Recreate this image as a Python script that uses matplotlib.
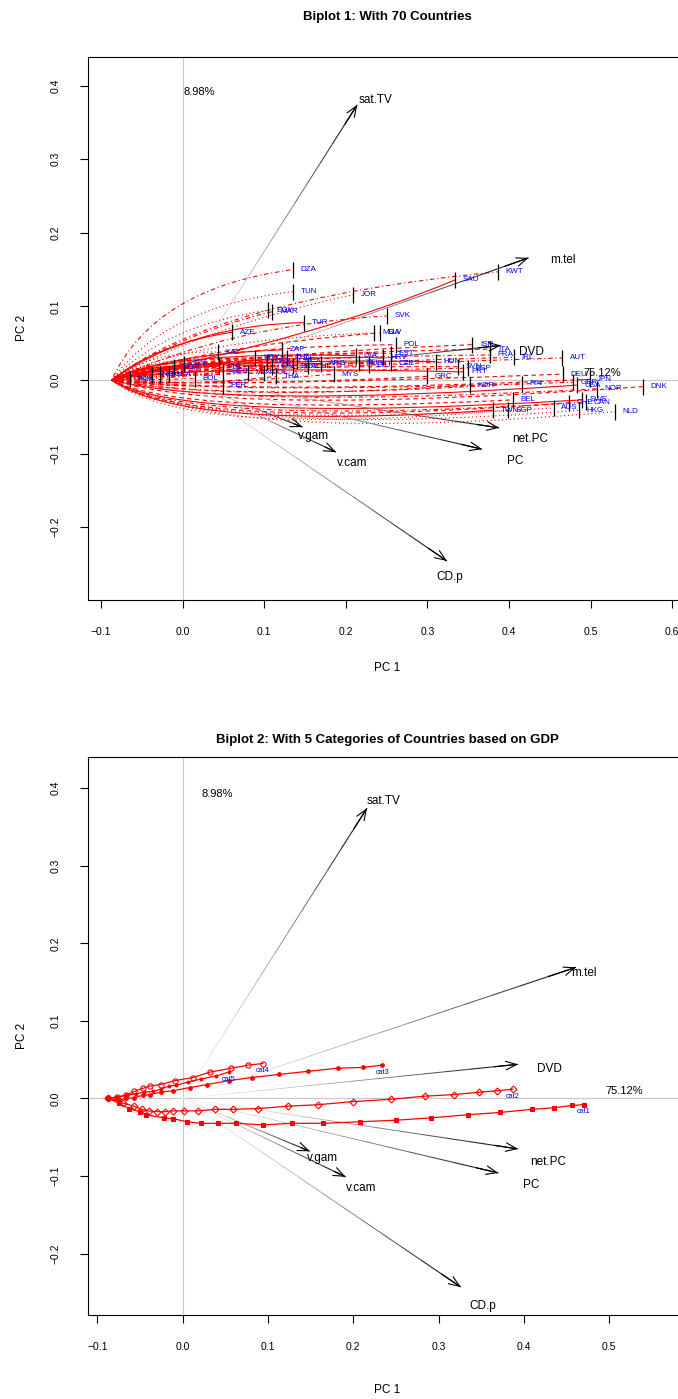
import matplotlib.pyplot as plt
import numpy as np
from matplotlib.path import Path
from matplotlib.patches import PathPatch

plt.rcParams['font.family'] = ['Liberation Sans', 'DejaVu Sans']

# ---------------- variable loadings (arrow tips) ----------------
var_names = ['sat.TV', 'm.tel', 'DVD', 'net.PC', 'PC', 'v.gam', 'v.cam', 'CD.p']
tip_x1 = [0.214, 0.424, 0.390, 0.388, 0.367, 0.147, 0.188, 0.324]
tip_y1 = [0.374, 0.166, 0.047, -0.065, -0.094, -0.064, -0.098, -0.246]
lab_x1 = [0.236, 0.466, 0.428, 0.426, 0.408, 0.160, 0.208, 0.328]
lab_y1 = [0.381, 0.163, 0.038, -0.080, -0.110, -0.076, -0.113, -0.268]

tip_x2 = [0.216, 0.461, 0.393, 0.393, 0.370, 0.149, 0.191, 0.326]
tip_y2 = [0.374, 0.169, 0.044, -0.065, -0.096, -0.068, -0.101, -0.243]
lab_x2 = [0.236, 0.470, 0.430, 0.429, 0.408, 0.164, 0.209, 0.352]
lab_y2 = [0.383, 0.162, 0.038, -0.082, -0.112, -0.077, -0.116, -0.268]

pc_text = ['75.12%', '8.98%']

# ---------------- Biplot 1: country trajectories ----------------
start_pt = (-0.087, 0.0)
countries = ['DZA', 'TUN', 'EGY', 'MAR', 'JOR', 'SAU', 'KWT', 'TUR', 'AZE', 'SVK',
             'MDA', 'SLV', 'POL', 'ISR', 'ITA', 'FRA', 'IRL', 'AUT', 'HUN', 'SVN',
             'ESP', 'PRT', 'LVA', 'RUS', 'LTU', 'EST', 'CZE', 'HRV', 'KAZ', 'ZAF',
             'BRA', 'CHL', 'ARG', 'URY', 'UKR', 'CHN', 'MEX', 'VEN', 'COL', 'IRN',
             'TKM', 'IND', 'PAK', 'LKA', 'NGA', 'IDN', 'BOL', 'PHL', 'ECU', 'PER',
             'THA', 'GRC', 'MYS', 'KOR', 'FIN', 'DEU', 'GBR', 'JPN', 'USA', 'NOR',
             'DNK', 'BEL', 'AUS', 'HKG', 'NLD', 'CHE', 'SWE', 'CAN', 'TWN', 'SGP']
end_x = [0.135, 0.135, 0.105, 0.110, 0.209, 0.334, 0.386, 0.149, 0.061, 0.250,
         0.235, 0.242, 0.261, 0.355, 0.377, 0.377, 0.406, 0.465, 0.310, 0.338,
         0.350, 0.344, 0.212, 0.216, 0.228, 0.255, 0.255, 0.245, 0.043, 0.122,
         0.135, 0.154, 0.170, 0.089, 0.103, 0.128, 0.140, 0.080, 0.100, 0.110,
         -0.065, -0.037, -0.028, -0.017, -0.010, 0.002, 0.015, 0.045, 0.050, 0.049,
         0.115, 0.300, 0.185, 0.352, 0.416, 0.466, 0.479, 0.499, 0.483, 0.508,
         0.564, 0.405, 0.455, 0.486, 0.530, 0.474, 0.490, 0.495, 0.381, 0.399]
end_y = [0.150, 0.120, 0.095, 0.093, 0.116, 0.136, 0.147, 0.078, 0.065, 0.087,
         0.064, 0.064, 0.048, 0.048, 0.042, 0.034, 0.031, 0.030, 0.025, 0.018,
         0.016, 0.011, 0.033, 0.023, 0.020, 0.036, 0.023, 0.031, 0.038, 0.041,
         0.019, 0.019, 0.022, 0.030, 0.025, 0.030, 0.026, 0.010, 0.010, 0.018,
         0.001, 0.007, 0.008, 0.008, 0.017, 0.022, 0.002, 0.019, 0.011, -0.008,
         0.005, 0.005, 0.008, -0.007, -0.005, 0.008, -0.003, 0.001, -0.007, -0.012,
         -0.009, -0.027, -0.038, -0.041, -0.043, -0.031, -0.027, -0.030, -0.041, -0.041]
bend_x = [-0.035, -0.020, -0.020, -0.010, 0.020, 0.170, 0.040, 0.010, -0.030, 0.060,
          0.000, 0.020, 0.000, 0.050, 0.000, 0.000, 0.050, 0.050, 0.000, 0.000,
          0.000, 0.000, -0.020, -0.020, 0.000, 0.000, 0.000, -0.010, -0.040, -0.020,
          -0.020, -0.020, -0.010, -0.030, -0.030, -0.020, -0.020, -0.030, -0.030, -0.030,
          -0.075, -0.060, -0.060, -0.050, -0.050, -0.050, -0.040, -0.030, -0.030, -0.030,
          0.000, 0.050, 0.000, 0.050, 0.050, 0.050, 0.050, 0.100, 0.050, 0.050,
          0.050, 0.000, 0.000, 0.050, 0.050, 0.000, 0.000, 0.000, 0.000, 0.000]
bend_y = [0.125, 0.100, 0.075, 0.060, 0.070, 0.060, 0.110, 0.075, 0.050, 0.075,
          0.055, 0.045, 0.045, 0.035, 0.035, 0.030, 0.020, 0.015, 0.030, 0.020,
          0.010, 0.020, 0.040, 0.035, 0.025, 0.035, 0.020, 0.030, 0.040, 0.035,
          0.020, 0.025, 0.030, 0.030, 0.040, 0.020, 0.010, 0.020, 0.005, 0.030,
          0.000, 0.010, 0.015, 0.000, 0.020, 0.025, 0.000, 0.015, 0.000, -0.010,
          -0.010, -0.010, -0.010, -0.030, -0.030, -0.010, -0.020, -0.020, -0.040, -0.040,
          -0.050, -0.050, -0.070, -0.080, -0.090, -0.070, -0.060, -0.065, -0.070, -0.080]
lty = ['dotdash', 'dotted', 'dotted', 'dotdash', 'dotted', 'solid', 'dotdash', 'solid', 'solid', 'dotdash',
       'dotted', 'dashed', 'dashed', 'dashed', 'dashed', 'dotdash', 'dotdash', 'dotdash', 'solid', 'dashed',
       'dotdash', 'solid', 'solid', 'dashed', 'dotted', 'dashed', 'dotdash', 'solid', 'dotted', 'solid',
       'dashed', 'dotdash', 'solid', 'dashed', 'dotted', 'solid', 'dashed', 'dashed', 'dotdash', 'solid',
       'solid', 'solid', 'dashed', 'dotted', 'solid', 'dotdash', 'dashed', 'solid', 'dotdash', 'dashed',
       'dashed', 'dashed', 'dotdash', 'dashed', 'dotdash', 'dashed', 'dotdash', 'dashed', 'solid', 'dotdash',
       'dashed', 'dashed', 'dotted', 'dotted', 'dotted', 'dashed', 'solid', 'dotdash', 'solid', 'dotted']

# ---------------- Biplot 2: GDP category trajectories ----------------
cat_names = ['cat1', 'cat2', 'cat3', 'cat4', 'cat5']
cat1_x = [-0.087, -0.075, -0.063, -0.050, -0.043, -0.022, -0.011, 0.005, 0.021, 0.041, 0.063, 0.094,
          0.128, 0.164, 0.208, 0.250, 0.291, 0.334, 0.372, 0.409, 0.435, 0.456, 0.470]
cat1_y = [0.000, -0.006, -0.013, -0.017, -0.021, -0.025, -0.026, -0.030, -0.032, -0.032, -0.032, -0.034,
          -0.032, -0.032, -0.030, -0.028, -0.025, -0.021, -0.018, -0.014, -0.012, -0.009, -0.008]
cat2_x = [-0.087, -0.070, -0.057, -0.048, -0.040, -0.030, -0.021, -0.011, 0.002, 0.018, 0.038,
          0.059, 0.088, 0.123, 0.159, 0.200, 0.244, 0.284, 0.318, 0.347, 0.369, 0.387]
cat2_y = [0.000, -0.006, -0.010, -0.014, -0.016, -0.017, -0.017, -0.016, -0.016, -0.016, -0.014,
          -0.014, -0.013, -0.010, -0.008, -0.004, -0.001, 0.003, 0.005, 0.008, 0.010, 0.012]
cat3_x = [-0.087, -0.075, -0.066, -0.057, -0.047, -0.038, -0.026, -0.011, 0.008, 0.029, 0.054,
          0.081, 0.113, 0.147, 0.182, 0.211, 0.234]
cat3_y = [0.000, -0.002, 0.000, 0.001, 0.004, 0.005, 0.008, 0.010, 0.014, 0.018, 0.023,
          0.027, 0.031, 0.035, 0.039, 0.040, 0.043]
cat4_x = [-0.087, -0.077, -0.067, -0.057, -0.047, -0.038, -0.026, -0.009, 0.012, 0.032, 0.057, 0.077, 0.094]
cat4_y = [0.000, 0.002, 0.004, 0.009, 0.013, 0.016, 0.018, 0.023, 0.027, 0.034, 0.039, 0.043, 0.045]
cat5_x = [-0.087, -0.077, -0.066, -0.055, -0.045, -0.035, -0.026, -0.016, -0.008, 0.006, 0.021, 0.039, 0.054]
cat5_y = [0.000, 0.002, 0.004, 0.006, 0.008, 0.009, 0.012, 0.016, 0.017, 0.021, 0.025, 0.029, 0.034]

cat_x = [cat1_x, cat2_x, cat3_x, cat4_x, cat5_x]
cat_y = [cat1_y, cat2_y, cat3_y, cat4_y, cat5_y]
cat_marker = ['s', 'D', 'o', 'o', 'o']
cat_msize = [3.2, 3.5, 2.6, 3.8, 2.0]
cat_mface = ['red', 'none', 'red', 'none', 'red']

dash_map = {'solid': '-', 'dashed': (0, (4, 3)), 'dotted': (0, (1, 2.5)),
            'dotdash': (0, (1, 2.5, 4, 2.5))}

W, H = 678, 1399
fig = plt.figure(figsize=(W / 100, H / 100), dpi=100)


def px_axes(left, top, right, bottom):
    return fig.add_axes([left / W, 1 - bottom / H, (right - left) / W, (bottom - top) / H])


def fmt(v):
    return ('%.1f' % v).replace('-', '\u2212')


def style_axes(ax, xt, yt):
    ax.axhline(0, color='#c8c8c8', lw=0.8, zorder=0)
    ax.axvline(0, color='#c8c8c8', lw=0.8, zorder=0)
    ax.set_xticks(xt)
    ax.set_yticks(yt)
    ax.set_xticklabels([fmt(v) for v in xt])
    ax.set_yticklabels([fmt(v) for v in yt], rotation=90, va='center')
    ax.tick_params(direction='out', length=5.5, width=0.8, labelsize=7.5, pad=14)
    for s in ax.spines.values():
        s.set_linewidth(0.8)


def draw_arrows(ax, tx, ty, lx, ly):
    n = 14
    for x, y in zip(tx, ty):
        for k in range(n):
            a, b = k / n, (k + 1) / n
            g = 0.97 * (1 - b) ** 0.7
            ax.plot([a * x, b * x], [a * y, b * y], color=str(g),
                    lw=0.25 + 0.6 * b, solid_capstyle='butt', zorder=3)
        ax.annotate('', xy=(x, y), xytext=(0.93 * x, 0.93 * y),
                    arrowprops=dict(arrowstyle='->,head_length=0.55,head_width=0.22',
                                    lw=0.8, color='black', shrinkA=0, shrinkB=0,
                                    mutation_scale=14), zorder=4)
    for name, x, y in zip(var_names, lx, ly):
        ax.text(x, y, name, fontsize=8.5, ha='center', va='center', zorder=5)


# ---------------- top plot ----------------
ax1 = px_axes(88, 57, 686, 600)
ax1.set_xlim(-0.116, 0.617)
ax1.set_ylim(-0.299, 0.439)
style_axes(ax1, [-0.1, 0.0, 0.1, 0.2, 0.3, 0.4, 0.5, 0.6], [-0.2, -0.1, 0.0, 0.1, 0.2, 0.3, 0.4])

for i in range(len(countries)):
    verts = [start_pt, (bend_x[i], bend_y[i]), (end_x[i], end_y[i])]
    path = Path(verts, [Path.MOVETO, Path.CURVE3, Path.CURVE3])
    ax1.add_patch(PathPatch(path, fill=False, edgecolor='red', lw=0.8,
                            linestyle=dash_map[lty[i]], zorder=2))

draw_arrows(ax1, tip_x1, tip_y1, lab_x1, lab_y1)
ax1.plot(end_x, end_y, '|', color='black', ms=11, mew=0.9, zorder=4)
for c, x, y in zip(countries, end_x, end_y):
    ax1.annotate(c, (x, y), xytext=(5.5, 0), textcoords='offset points',
                 fontsize=5.8, color='blue', va='center', ha='left', zorder=6)
ax1.text(0.491, 0.0095, pc_text[0], fontsize=8, ha='left', va='center')
ax1.text(0.001, 0.392, pc_text[1], fontsize=8, ha='left', va='center')

# ---------------- bottom plot ----------------
ax2 = px_axes(88, 757, 686, 1315)
ax2.set_xlim(-0.111, 0.590)
ax2.set_ylim(-0.279, 0.440)
style_axes(ax2, [-0.1, 0.0, 0.1, 0.2, 0.3, 0.4, 0.5], [-0.2, -0.1, 0.0, 0.1, 0.2, 0.3, 0.4])

draw_arrows(ax2, tip_x2, tip_y2, lab_x2, lab_y2)
for i, name in enumerate(cat_names):
    ax2.plot(cat_x[i], cat_y[i], color='red', lw=0.9, marker=cat_marker[i],
             ms=cat_msize[i], mfc=cat_mface[i], mec='red', mew=0.8, zorder=5)
    ax2.annotate(name, (cat_x[i][-1], cat_y[i][-1]), xytext=(0, -2.5),
                 textcoords='offset points', fontsize=5.3, color='blue',
                 ha='center', va='top', zorder=6)
ax2.text(0.495, 0.009, pc_text[0], fontsize=8, ha='left', va='center')
ax2.text(0.022, 0.392, pc_text[1], fontsize=8, ha='left', va='center')

# ---------------- titles and axis labels ----------------
fig.text(387 / W, 1 - 17 / H, 'Biplot 1: With 70 Countries', fontsize=9.5,
         fontweight='bold', ha='center', va='center')
fig.text(387 / W, 1 - 740 / H, 'Biplot 2: With 5 Categories of Countries based on GDP',
         fontsize=9.5, fontweight='bold', ha='center', va='center')
fig.text(387 / W, 1 - 668 / H, 'PC 1', fontsize=8.5, ha='center', va='center')
fig.text(387 / W, 1 - 1390 / H, 'PC 1', fontsize=8.5, ha='center', va='center')
fig.text(22 / W, 1 - 328 / H, 'PC 2', fontsize=8.5, ha='center', va='center', rotation=90)
fig.text(22 / W, 1 - 1036 / H, 'PC 2', fontsize=8.5, ha='center', va='center', rotation=90)

fig.savefig('out.png', dpi=100)
